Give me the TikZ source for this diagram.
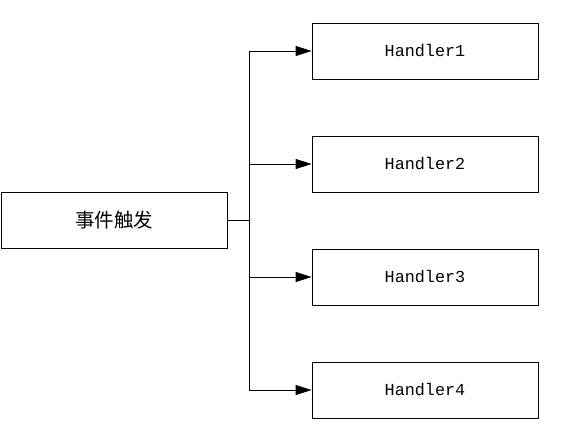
\documentclass[tikz,border=0pt]{standalone}
\usepackage{fontspec}
\setmonofont{Liberation Mono}
\newfontfamily\cjk{Noto Sans CJK SC}
\usetikzlibrary{arrows.meta}
\begin{document}
\begin{tikzpicture}[x=1pt,y=-1pt,
  boxstyle/.style={draw,line width=0.8pt,minimum width=226pt,minimum height=56pt,inner sep=0pt},
  hlabel/.style={font=\ttfamily\fontsize{16.8}{16.8}\selectfont},
  conn/.style={line width=1pt},
  arr/.style={conn,-{Triangle[length=16pt,width=10pt]}}]
\useasboundingbox (0,0) rectangle (568,429);
\node[boxstyle,font=\cjk\fontsize{19.5}{19.5}\selectfont] (L) at (114,220) {事件触发};
\node[boxstyle,hlabel] (H1) at (425,51) {Handler1};
\node[boxstyle,hlabel] (H2) at (425,164) {Handler2};
\node[boxstyle,hlabel] (H3) at (425,277) {Handler3};
\node[boxstyle,hlabel] (H4) at (425,390) {Handler4};
\coordinate (j) at (249,220);
\draw[conn] (L.east) -- (j);
\foreach \h in {H1,H2,H3,H4} \draw[arr] (j) |- (\h.west);
\end{tikzpicture}
\end{document}
